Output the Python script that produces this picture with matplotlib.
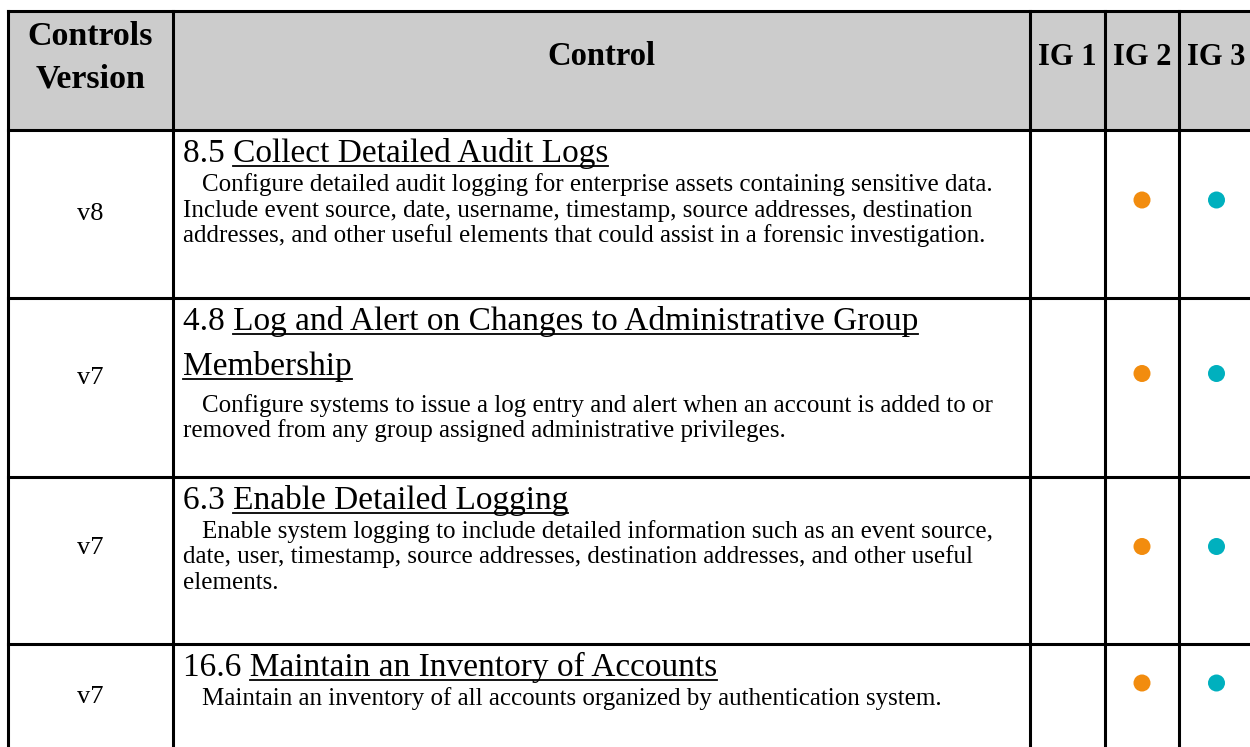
import matplotlib
matplotlib.use('Agg')
import matplotlib.pyplot as plt
from matplotlib.patches import Rectangle

# table content
header_labels = ['Controls\nVersion', 'Control', 'IG 1', 'IG 2', 'IG 3']
versions = ['v8', 'v7', 'v7', 'v7']
control_ids = ['8.5', '4.8', '6.3', '16.6']
control_titles = [
    ['Collect Detailed Audit Logs'],
    ['Log and Alert on Changes to Administrative Group', 'Membership'],
    ['Enable Detailed Logging'],
    ['Maintain an Inventory of Accounts'],
]
descriptions = [
    ['Configure detailed audit logging for enterprise assets containing sensitive data.',
     'Include event source, date, username, timestamp, source addresses, destination',
     'addresses, and other useful elements that could assist in a forensic investigation.'],
    ['Configure systems to issue a log entry and alert when an account is added to or',
     'removed from any group assigned administrative privileges.'],
    ['Enable system logging to include detailed information such as an event source,',
     'date, user, timestamp, source addresses, destination addresses, and other useful',
     'elements.'],
    ['Maintain an inventory of all accounts organized by authentication system.'],
]
ig1 = [False, False, False, False]
ig2 = [True, True, True, True]
ig3 = [True, True, True, True]

# layout (pixels)
W, H = 1250, 747
col_x = [8, 173, 1030, 1105, 1179, 1254]
row_y = [11, 130, 298, 477, 644, 750]
version_dy = [0, -10, -12, 0]
ig_colors = [None, '#F28C0E', '#00B0BE']
FONT = 'Liberation Serif'
TITLE_SIZE = 24
BODY_SIZE = 18
BODY_LH = 25.5

fig = plt.figure(figsize=(W / 100, H / 100), dpi=100)
ax = fig.add_axes([0, 0, 1, 1])
ax.set_xlim(0, W)
ax.set_ylim(H, 0)
ax.axis('off')

# header background
ax.add_patch(Rectangle((col_x[0], row_y[0]), W - col_x[0], row_y[1] - row_y[0],
                       facecolor='#CCCCCC', edgecolor='none', zorder=0))

# grid lines
for y in row_y[:-1]:
    ax.plot([col_x[0], W + 5], [y, y], color='black', lw=2.2, solid_capstyle='projecting', zorder=3)
for x in col_x[:-1]:
    ax.plot([x, x], [row_y[0], H + 5], color='black', lw=2.2, solid_capstyle='projecting', zorder=3)

# header text
cx = [(col_x[i] + col_x[i + 1]) / 2 for i in range(5)]
first, second = header_labels[0].split('\n')
ax.text(cx[0], 45, first, ha='center', va='baseline', fontsize=24.5, fontweight='bold', family=FONT)
ax.text(cx[0], 88, second, ha='center', va='baseline', fontsize=24.5, fontweight='bold', family=FONT)
ax.text(cx[1], 65, header_labels[1], ha='center', va='baseline', fontsize=23.5,
        fontweight='bold', family=FONT)
for i in range(2, 5):
    ax.text(cx[i], 65, header_labels[i], ha='center', va='baseline', fontsize=22,
            fontweight='bold', family=FONT)

renderer = fig.canvas.get_renderer()


def text_width(s, size):
    t = ax.text(0, 0, s, fontsize=size, family=FONT)
    bb = t.get_window_extent(renderer)
    t.remove()
    return bb.width


left = 183
indent = 19

for r in range(4):
    top, bot = row_y[r + 1], row_y[r + 2]
    mid = (top + bot) / 2
    ax.text(cx[0], mid + version_dy[r], versions[r], ha='center', va='center',
            fontsize=19, family=FONT)

    # title lines with underline
    yb = top + 32
    for k, line in enumerate(control_titles[r]):
        if k > 0:
            yb += 45
        s = control_ids[r] + ' ' + line if k == 0 else line
        ax.text(left, yb, s, ha='left', va='baseline', fontsize=TITLE_SIZE, family=FONT)
        full = text_width(s, TITLE_SIZE)
        part = text_width(line, TITLE_SIZE)
        x0 = left + full - part
        ax.plot([x0, left + full], [yb + 3.5, yb + 3.5], color='black', lw=1.3, zorder=2)

    # description
    yb += 29 if len(control_titles[r]) == 1 else 37
    for k, line in enumerate(descriptions[r]):
        ax.text(left + (indent if k == 0 else 0), yb + k * BODY_LH, line, ha='left',
                va='baseline', fontsize=BODY_SIZE, family=FONT)

    # implementation group dots
    dot_y = mid - 14
    for c, flags in zip([2, 3, 4], [ig1, ig2, ig3]):
        if flags[r]:
            ax.scatter([cx[c]], [dot_y], s=150, color=ig_colors[c - 2], edgecolors='none', zorder=4)

fig.savefig('out.png', dpi=100)
